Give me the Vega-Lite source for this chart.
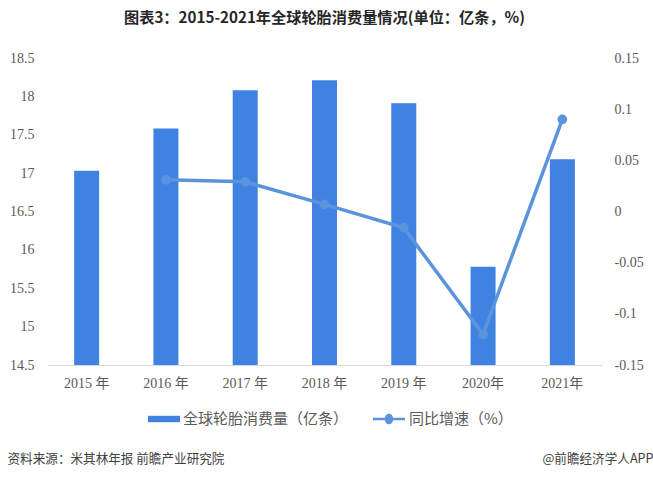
{
  "$schema": "https://vega.github.io/schema/vega-lite/v6.json",
  "width": 555,
  "height": 307,
  "autosize": "none",
  "padding": {"left": 47, "top": 58, "right": 51, "bottom": 113},
  "background": "white",
  "title": {
    "text": "图表3：2015-2021年全球轮胎消费量情况(单位：亿条，%)",
    "font": "Noto Sans CJK SC",
    "fontSize": 15.2,
    "fontWeight": "bold",
    "color": "#262626",
    "anchor": "middle",
    "offset": 25
  },
  "data": {
    "values": [
      {"year": "2015 年", "consumption": 17.03, "growth": null},
      {"year": "2016 年", "consumption": 17.58, "growth": 0.031},
      {"year": "2017 年", "consumption": 18.08, "growth": 0.029},
      {"year": "2018 年", "consumption": 18.21, "growth": 0.007},
      {"year": "2019 年", "consumption": 17.91, "growth": -0.016},
      {"year": "2020年", "consumption": 15.78, "growth": -0.12},
      {"year": "2021年", "consumption": 17.18, "growth": 0.09}
    ]
  },
  "layer": [
    {
      "mark": {"type": "bar", "width": 25},
      "encoding": {
        "x": {
          "field": "year",
          "type": "nominal",
          "sort": null,
          "scale": {"type": "band", "paddingInner": 0, "paddingOuter": 0},
          "axis": {
            "orient": "bottom",
            "title": "资料来源：米其林年报 前瞻产业研究院",
            "titleFont": "Noto Sans CJK SC",
            "titleFontSize": 12.6,
            "titleFontWeight": "normal",
            "titleColor": "#404040",
            "titleAlign": "left",
            "titleBaseline": "middle",
            "titleX": -40,
            "titleY": 93,
            "labelAngle": 0,
            "labelFont": "Liberation Serif, Noto Sans CJK SC",
            "labelFontSize": 14,
            "labelColor": "#595959",
            "labelPadding": 11,
            "ticks": false,
            "domainColor": "#d9d9d9"
          }
        },
        "y": {
          "field": "consumption",
          "type": "quantitative",
          "scale": {"domain": [14.5, 18.5], "nice": false},
          "axis": {
            "title": null,
            "values": [14.5, 15, 15.5, 16, 16.5, 17, 17.5, 18, 18.5],
            "labelExpr": "'' + datum.value",
            "grid": false,
            "domain": false,
            "ticks": false,
            "labelFont": "Liberation Serif",
            "labelFontSize": 14,
            "labelColor": "#595959",
            "labelPadding": 13
          }
        },
        "y2": {"datum": 14.5},
        "color": {
          "datum": "全球轮胎消费量（亿条）",
          "scale": {"range": ["#3f82e2"]},
          "legend": {
            "title": null,
            "orient": "none",
            "legendX": 101,
            "legendY": 345,
            "symbolType": "M-1,-0.2H1V0.2H-1Z",
            "symbolSize": 1024,
            "symbolStrokeWidth": 0,
            "labelFont": "Noto Sans CJK SC",
            "labelFontSize": 15,
            "labelColor": "#595959",
            "labelLimit": 300,
            "labelOffset": 3
          }
        }
      }
    },
    {
      "mark": {
        "type": "line",
        "strokeWidth": 3.5,
        "point": {"size": 60, "filled": true, "color": "#5b94dd"}
      },
      "encoding": {
        "x": {
          "field": "year",
          "type": "nominal",
          "sort": null,
          "axis": {
            "orient": "bottom",
            "title": "@前瞻经济学人APP",
            "titleFont": "Noto Sans CJK SC",
            "titleFontSize": 12.6,
            "titleFontWeight": "normal",
            "titleColor": "#404040",
            "titleAlign": "right",
            "titleBaseline": "middle",
            "titleX": 606,
            "titleY": 93,
            "labels": false,
            "ticks": false,
            "domain": false
          }
        },
        "y": {
          "field": "growth",
          "type": "quantitative",
          "scale": {"domain": [-0.15, 0.15], "nice": false},
          "axis": {
            "title": null,
            "orient": "right",
            "values": [-0.15, -0.1, -0.05, 0, 0.05, 0.1, 0.15],
            "labelExpr": "'' + datum.value",
            "grid": false,
            "domain": false,
            "ticks": false,
            "labelFont": "Liberation Serif",
            "labelFontSize": 14,
            "labelColor": "#595959",
            "labelPadding": 12
          }
        },
        "stroke": {
          "datum": "同比增速（%）",
          "scale": {"range": ["#5b94dd"]},
          "legend": {
            "title": null,
            "orient": "none",
            "legendX": 326,
            "legendY": 345,
            "symbolType": "M-1,-0.08H-0.25A0.25,0.25,0,0,1,0.25,-0.08H1V0.08H0.25A0.25,0.25,0,0,1,-0.25,0.08H-1Z",
            "symbolSize": 1024,
            "symbolStrokeWidth": 0,
            "symbolFillColor": "#5b94dd",
            "labelFont": "Noto Sans CJK SC",
            "labelFontSize": 15,
            "labelColor": "#595959",
            "labelLimit": 300,
            "labelOffset": 4
          }
        }
      }
    }
  ],
  "resolve": {
    "scale": {"y": "independent", "color": "independent", "stroke": "independent"},
    "axis": {"x": "independent", "y": "independent"}
  },
  "config": {"view": {"stroke": null}}
}
